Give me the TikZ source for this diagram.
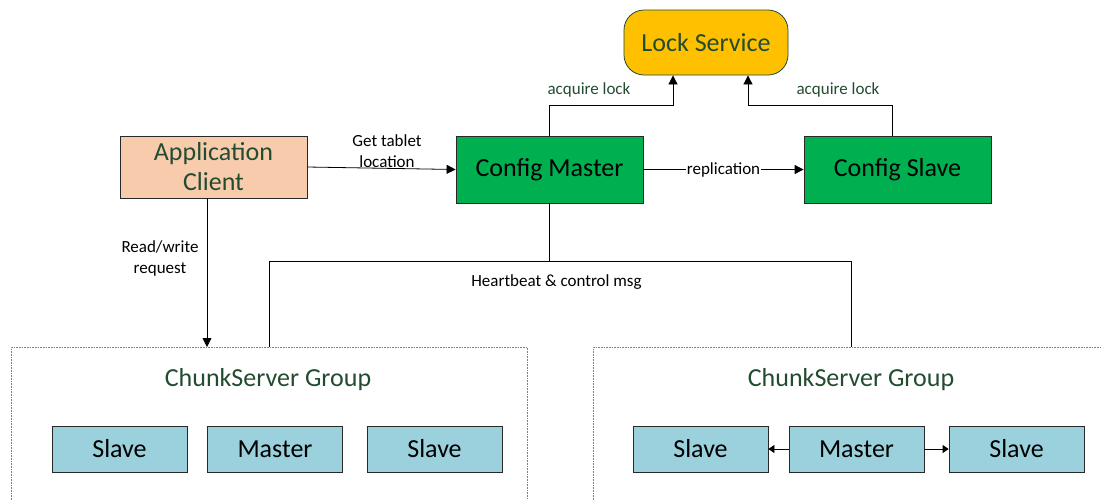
\documentclass[tikz,border=0pt]{standalone}
\usepackage{fontspec}
\setmainfont{Carlito}
\usetikzlibrary{arrows.meta,calc}
\definecolor{txtgreen}{RGB}{34,76,48}
\definecolor{lockfill}{RGB}{255,192,0}
\definecolor{cfgfill}{RGB}{0,176,80}
\definecolor{appfill}{RGB}{248,203,173}
\definecolor{chunkfill}{RGB}{155,208,221}
\definecolor{grpline}{RGB}{110,135,110}
\definecolor{edgegray}{RGB}{40,40,40}
\begin{document}
\begin{tikzpicture}[x=1pt,y=-1pt,
  bigtxt/.style={font=\fontsize{26}{30}\selectfont},
  smalltxt/.style={font=\fontsize{17}{21}\selectfont},
  box/.style={draw=edgegray, line width=0.8pt, inner sep=0pt, bigtxt, align=center},
  lockbox/.style={box, draw=txtgreen, fill=lockfill, rounded corners=20pt, text=txtgreen, minimum width=164pt, minimum height=65pt},
  cfgbox/.style={box, fill=cfgfill, text=black, minimum width=187pt, minimum height=67pt},
  appbox/.style={box, fill=appfill, text=txtgreen, minimum width=187pt, minimum height=62pt},
  chunkbox/.style={box, fill=chunkfill, text=black, minimum width=135pt, minimum height=46pt},
  groupbox/.style={draw=grpline, densely dotted, line width=0.6pt, anchor=north west, inner sep=0pt},
  grouptitle/.style={bigtxt, text=txtgreen},
  lbl/.style={smalltxt, align=center, inner sep=1pt},
  greenlbl/.style={lbl, text=txtgreen},
  arr/.style={draw=black, line width=0.8pt, -{Triangle[length=9pt,width=9pt]}},
  sarr/.style={draw=black, line width=0.8pt, -{Triangle[length=6pt,width=8pt]}},
  plain/.style={draw=black, line width=0.8pt}
]
\useasboundingbox (0,0) rectangle (1102,499);

% groups
\node[groupbox, minimum width=516pt, minimum height=200pt] (g1) at (11,347) {};
\node[groupbox, minimum width=560pt, minimum height=200pt] (g2) at (593,347) {};
\node[grouptitle] (g1t) at (268,380) {ChunkServer Group};
\node[grouptitle] (g2t) at (851,380) {ChunkServer Group};

% main nodes
\node[lockbox] (lock) at (706,42.5) {Lock Service};
\node[cfgbox] (cm) at (549.5,169.5) {Config Master};
\node[cfgbox] (cs) at (897.5,169.5) {Config Slave};
\node[appbox] (ac) at (213.5,167) {Application\\Client};

% chunk servers
\node[chunkbox] (l1) at (119.5,449) {Slave};
\node[chunkbox] (l2) at (275,449) {Master};
\node[chunkbox] (l3) at (434.5,449) {Slave};
\node[chunkbox] (r1) at (700.5,449) {Slave};
\node[chunkbox] (r2) at (856.5,449) {Master};
\node[chunkbox] (r3) at (1016.5,449) {Slave};

% bend coordinates
\coordinate (b1) at (673,105);
\coordinate (b2) at (748,105);
\coordinate (cst) at (892,136);
\coordinate (rw) at (207,347);
\coordinate (hbL) at (269,261);
\coordinate (hbR) at (851,261);

% acquire lock
\draw[arr] (cm.north) |- (b1) -- (lock.south -| b1);
\draw[arr] (cst) |- (b2) -- (lock.south -| b2);
\node[greenlbl] (al1) at (589,90) {acquire lock};
\node[greenlbl] (al2) at (838,90) {acquire lock};

% replication
\draw[arr] (cm.east) -- node[lbl, fill=white, inner sep=0.5pt] (rep) {replication} (cs.west);

% get tablet location
\draw[arr] (ac.east) -- (cm.west);
\node[lbl] (gtl) at (387,151.5) {Get tablet\\location};

% read/write
\draw[arr] (ac.south -| rw) -- (rw);
\node[lbl] (rwl) at (160,258.5) {Read/write\\request};

% heartbeat
\draw[plain] (cm.south) -- (cm.south |- hbL);
\draw[plain] (hbL |- g1.north) -- (hbL) -- (hbR) -- (hbR |- g2.north);
\node[lbl] (hb) at (556.5,282) {Heartbeat \& control msg};

% chunk replication arrows
\draw[sarr] (r2.west) -- (r1.east);
\draw[sarr] (r2.east) -- (r3.west);
\end{tikzpicture}
\end{document}
